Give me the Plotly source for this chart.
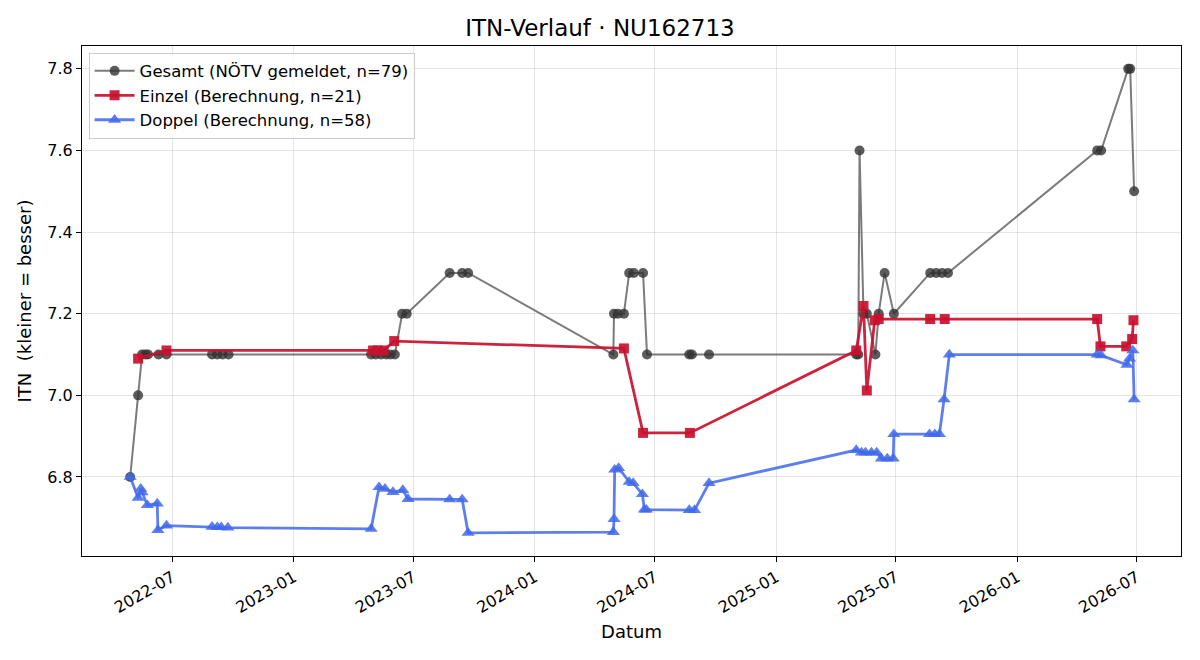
import plotly.graph_objects as go

# ---------------- data ----------------
gesamt_dates = [
    "2022-04-28", "2022-05-10", "2022-05-16", "2022-05-21", "2022-05-25", "2022-06-10", "2022-06-22",
    "2022-08-30", "2022-09-07", "2022-09-15", "2022-09-24",
    "2023-04-28", "2023-05-05", "2023-05-13", "2023-05-21", "2023-05-27", "2023-06-03",
    "2023-06-14", "2023-06-21", "2023-08-25", "2023-09-13", "2023-09-22",
    "2024-04-29", "2024-04-30", "2024-05-06", "2024-05-15", "2024-05-23", "2024-05-30",
    "2024-06-13", "2024-06-19", "2024-08-22", "2024-08-26", "2024-09-21",
    "2025-05-02", "2025-05-05", "2025-05-07", "2025-05-13", "2025-05-18", "2025-05-31",
    "2025-06-05", "2025-06-14", "2025-06-28",
    "2025-08-22", "2025-08-31", "2025-09-09", "2025-09-18",
    "2026-05-02", "2026-05-08", "2026-06-18", "2026-06-21", "2026-06-27",
]
gesamt_vals = [
    6.8, 7.0, 7.1, 7.1, 7.1, 7.1, 7.1,
    7.1, 7.1, 7.1, 7.1,
    7.1, 7.1, 7.1, 7.1, 7.1, 7.1,
    7.2, 7.2, 7.3, 7.3, 7.3,
    7.1, 7.2, 7.2, 7.2, 7.3, 7.3,
    7.3, 7.1, 7.1, 7.1, 7.1,
    7.1, 7.1, 7.6, 7.2, 7.2, 7.1,
    7.2, 7.3, 7.2,
    7.3, 7.3, 7.3, 7.3,
    7.6, 7.6, 7.8, 7.8, 7.5,
]

einzel_dates = [
    "2022-05-10", "2022-06-22",
    "2023-05-01", "2023-05-08", "2023-05-17", "2023-06-02",
    "2024-05-15", "2024-06-13", "2024-08-23",
    "2025-05-02", "2025-05-13", "2025-05-18", "2025-05-30", "2025-06-05",
    "2025-08-22", "2025-09-13",
    "2026-05-02", "2026-05-07", "2026-06-15", "2026-06-24", "2026-06-26",
]
einzel_vals = [
    7.09, 7.11,
    7.11, 7.11, 7.11, 7.133,
    7.115, 6.908, 6.908,
    7.11, 7.219, 7.012, 7.184, 7.187,
    7.187, 7.187,
    7.187, 7.12, 7.12, 7.138, 7.184,
]

doppel_dates = [
    "2022-04-28", "2022-05-10", "2022-05-14", "2022-05-16", "2022-05-24", "2022-06-08", "2022-06-09",
    "2022-06-22", "2022-08-30", "2022-09-07", "2022-09-13", "2022-09-23",
    "2023-04-28", "2023-05-10", "2023-05-19", "2023-05-31", "2023-06-15", "2023-06-23",
    "2023-08-25", "2023-09-13", "2023-09-22",
    "2024-04-29", "2024-04-30", "2024-05-01", "2024-05-07", "2024-05-23", "2024-05-29",
    "2024-06-12", "2024-06-15", "2024-06-18", "2024-08-22", "2024-08-30", "2024-09-21",
    "2025-05-02", "2025-05-10", "2025-05-16", "2025-05-25", "2025-06-02", "2025-06-09",
    "2025-06-18", "2025-06-27", "2025-06-28", "2025-08-21", "2025-08-29", "2025-09-05",
    "2025-09-12", "2025-09-20",
    "2026-05-02", "2026-05-08", "2026-06-16", "2026-06-20", "2026-06-25", "2026-06-27",
]
doppel_vals = [
    6.80, 6.749, 6.771, 6.762, 6.731, 6.735, 6.670,
    6.681, 6.678, 6.677, 6.677, 6.676,
    6.673, 6.775, 6.771, 6.763, 6.768, 6.746,
    6.745, 6.745, 6.663,
    6.665, 6.697, 6.818, 6.822, 6.788, 6.785,
    6.758, 6.72, 6.72, 6.719, 6.719, 6.785,
    6.866, 6.86, 6.86, 6.86, 6.86, 6.845,
    6.845, 6.845, 6.905, 6.905, 6.905, 6.905,
    6.99, 7.10,
    7.10, 7.098, 7.075, 7.09, 7.11, 6.99,
]

x_tick_vals = ["2022-07-01", "2023-01-01", "2023-07-01", "2024-01-01", "2024-07-01",
               "2025-01-01", "2025-07-01", "2026-01-01", "2026-07-01"]
x_tick_text = ["2022-07", "2023-01", "2023-07", "2024-01", "2024-07",
               "2025-01", "2025-07", "2026-01", "2026-07"]
y_tick_vals = [6.8, 7.0, 7.2, 7.4, 7.6, 7.8]
y_tick_text = ["6.8", "7.0", "7.2", "7.4", "7.6", "7.8"]

FONT = "DejaVu Sans"

fig = go.Figure()
fig.add_trace(go.Scatter(
    x=gesamt_dates, y=gesamt_vals, mode="lines+markers",
    name="Gesamt (NÖTV gemeldet, n=79)",
    line=dict(color="rgba(60,60,60,0.68)", width=2),
    marker=dict(symbol="circle", size=10, color="rgba(51,51,51,0.8)", line=dict(width=0)),
))
fig.add_trace(go.Scatter(
    x=einzel_dates, y=einzel_vals, mode="lines+markers",
    name="Einzel (Berechnung, n=21)",
    line=dict(color="rgba(200,16,46,0.92)", width=2.8),
    marker=dict(symbol="square", size=10, color="rgba(200,16,46,0.92)", line=dict(width=0)),
))
fig.add_trace(go.Scatter(
    x=doppel_dates, y=doppel_vals, mode="lines+markers",
    name="Doppel (Berechnung, n=58)",
    line=dict(color="rgba(65,105,235,0.85)", width=2.8),
    marker=dict(symbol="triangle-up", size=11.5, color="rgba(65,105,235,0.85)", line=dict(width=0)),
))

fig.update_layout(
    width=1200, height=660,
    margin=dict(l=82, r=19, t=46, b=104),
    paper_bgcolor="white", plot_bgcolor="white",
    font=dict(family=FONT, size=16, color="black"),
    title=dict(text="ITN-Verlauf · NU162713", x=0.5, xanchor="center",
               y=0.958, yanchor="middle", font=dict(size=23, family=FONT)),
    showlegend=True,
    legend=dict(x=0.006, y=0.987, xanchor="left", yanchor="top",
                bgcolor="rgba(255,255,255,0.85)", bordercolor="#cccccc", borderwidth=1,
                font=dict(size=16.5, family=FONT), tracegroupgap=0, itemwidth=40),
)
fig.update_xaxes(
    type="date", range=["2022-02-14", "2026-09-06"],
    tickvals=x_tick_vals, ticktext=x_tick_text, tickangle=-30,
    ticks="outside", ticklen=5, tickcolor="black", tickfont=dict(size=16),
    showline=True, linecolor="black", linewidth=1, mirror=True,
    showgrid=True, gridcolor="rgba(0,0,0,0.1)", gridwidth=1, zeroline=False,
    title=dict(text="Datum", font=dict(size=18), standoff=9),
)
fig.update_yaxes(
    range=[6.6064, 7.856],
    tickvals=y_tick_vals, ticktext=y_tick_text,
    ticks="outside", ticklen=5, tickcolor="black", tickfont=dict(size=16),
    showline=True, linecolor="black", linewidth=1, mirror=True,
    showgrid=True, gridcolor="rgba(0,0,0,0.1)", gridwidth=1, zeroline=False,
    title=dict(text="ITN  (kleiner = besser)", font=dict(size=18), standoff=11),
)

fig.write_html("out.html")
